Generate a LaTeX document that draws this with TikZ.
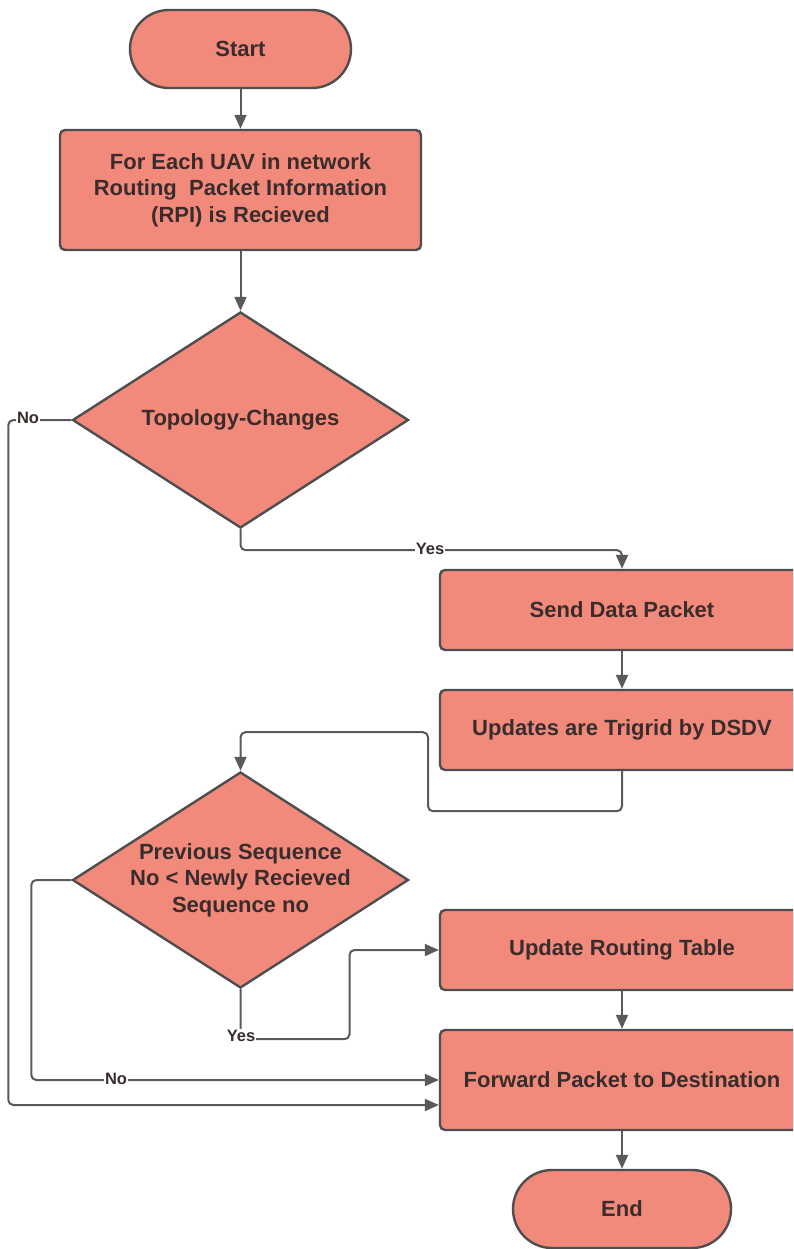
\documentclass[tikz,border=0pt]{standalone}
\usepackage{fontspec}
\setmainfont{Liberation Sans}
\usetikzlibrary{shapes.geometric,arrows.meta,calc}

\definecolor{boxfill}{RGB}{242,138,124}
\definecolor{boxline}{RGB}{78,78,78}
\definecolor{txt}{RGB}{58,44,44}
\definecolor{wire}{RGB}{90,90,90}

\tikzset{
  base/.style={draw=boxline, line width=2.4pt, fill=boxfill, text=txt,
    font=\fontsize{22}{26.5}\selectfont\bfseries, align=center, inner sep=0pt},
  terminal/.style={base, rectangle, rounded corners=39pt,
    minimum width=#1, minimum height=78pt},
  process/.style={base, rectangle, rounded corners=5pt},
  decision/.style={base, diamond, minimum width=336pt, minimum height=216pt},
  dtext/.style={text=txt, align=center, inner sep=0pt,
    font=\fontsize{22}{26.5}\selectfont\bfseries},
  conn/.style={draw=wire, line width=2pt,
    -{Triangle[length=14pt,width=12pt]}},
  bent/.style={conn, rounded corners=5pt},
  tag/.style={fill=white, text=txt, inner sep=1pt,
    font=\fontsize{16.5}{19}\selectfont\bfseries}
}

\begin{document}
\begin{tikzpicture}[x=1pt, y=-1pt]
  \clip (0,0) rectangle (793,1249);
  \fill[white] (0,0) rectangle (793,1249);

  % flow nodes
  \node[terminal=221pt] (start) at (240.5,49) {Start};
  \node[process, minimum width=361pt, minimum height=120pt] (rpi) at (240.5,190)
    {For Each UAV in network\\Routing \ Packet Information\\(RPI) is Recieved};
  \node[decision] (topo) at (240.5,420) {};
  \node[dtext] (topotxt) at (topo) {Topology-Changes};
  \node[process, minimum width=364pt, minimum height=80pt] (send) at (622,610)
    {Send Data Packet};
  \node[process, minimum width=364pt, minimum height=80pt] (trig) at (622,730)
    {Updates are Trigrid by DSDV};
  \node[decision] (seq) at (240.5,880) {};
  \node[dtext] (seqtxt) at (seq)
    {Previous Sequence\\No < Newly Recieved\\Sequence no};
  \node[process, minimum width=364pt, minimum height=80pt] (table) at (622,950)
    {Update Routing Table};
  \node[process, minimum width=364pt, minimum height=100pt] (fwd) at (622,1080)
    {Forward Packet to Destination};
  \node[terminal=218pt] (stop) at (622,1209) {End};

  % straight connectors
  \draw[conn] (start.south) -- (rpi.north);
  \draw[conn] (rpi.south) -- (topo.north);
  \draw[conn] (send.south) -- (trig.north);
  \draw[conn] (table.south) -- (fwd.north);
  \draw[conn] (fwd.south) -- (stop.north);

  % topology changed: send data
  \draw[bent] (topo.south) -- ++(0,21) -| (send.north);
  \node[tag] (yes1) at (430,549) {Yes};

  % topology unchanged: forward directly
  \draw[bent] (topo.west) -- ++(-63,0) |- ($(fwd.west)+(0,25)$);
  \node[tag] (no1) at (28,418) {No};

  % triggered update feeds the sequence check
  \draw[bent] (trig.south) -- ++(0,40) -- ++(-194,0) -- ++(0,-79) -| (seq.north);

  % newer sequence: update the table
  \draw[bent] (seq.south) -- ++(0,50) -- ++(109,0) |- (table.west);
  \node[tag] (yes2) at (241,1036) {Yes};

  % older sequence: forward
  \draw[bent] (seq.west) -- ++(-40,0) |- (fwd.west);
  \node[tag] (no2) at (116,1079) {No};
\end{tikzpicture}
\end{document}
